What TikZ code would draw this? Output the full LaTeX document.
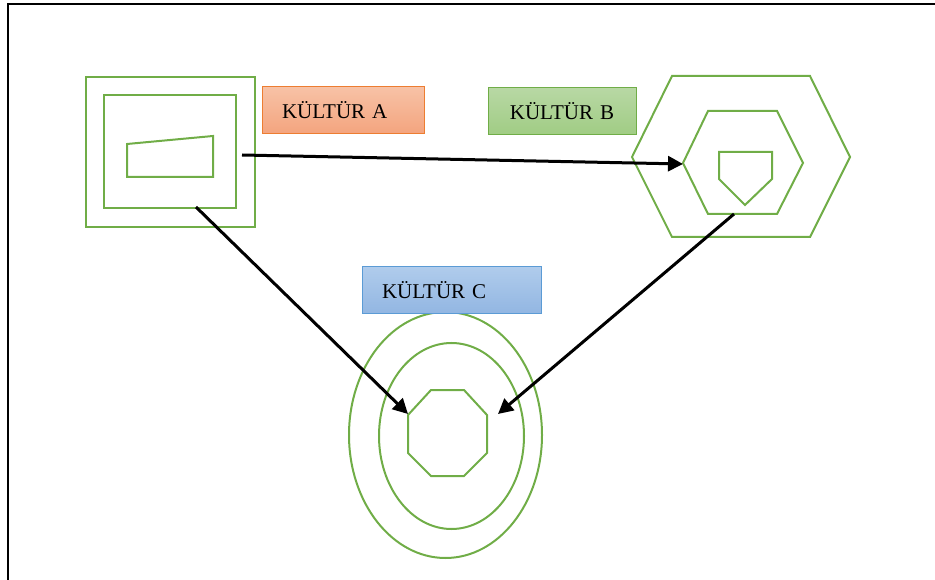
\documentclass[tikz,border=0pt]{standalone}
\usepackage{fontspec}
\setmainfont{Liberation Serif}
\usetikzlibrary{arrows.meta,shapes.geometric}

\definecolor{shapegreen}{HTML}{70AD47}
\definecolor{orangeline}{HTML}{ED7D31}
\definecolor{orangetop}{HTML}{F7C2A6}
\definecolor{orangebottom}{HTML}{F4A47E}
\definecolor{greentop}{HTML}{B8D8A4}
\definecolor{greenbottom}{HTML}{A0CC84}
\definecolor{blueline}{HTML}{5B9BD5}
\definecolor{bluetop}{HTML}{B0CCEC}
\definecolor{bluebottom}{HTML}{92B6E2}

\tikzset{
  outline/.style={draw=shapegreen, line width=2pt, line join=miter},
  kulturbox/.style={draw, line width=1pt, minimum height=47pt, inner xsep=20pt, inner ysep=0pt},
  connector/.style={line width=3pt, -{Triangle[length=15pt,width=15pt]}}
}

\begin{document}
\begin{tikzpicture}[x=1pt,y=-1pt,font=\fontsize{21}{24}\selectfont]
\useasboundingbox (0,0) rectangle (935,580);

% Frame
\draw[line width=2.5pt] (8,580) -- (8,4) -- (935,4);

% Culture A: squares and trapezoid
\draw[outline] (86,77) rectangle (255,227);
\draw[outline] (104,95) rectangle (236,208);
\draw[outline] (127,144) -- (213,136) -- (213,177) -- (127,177) -- cycle;

% Culture B: hexagons and pentagon
\draw[outline] (632,157) -- (672,76) -- (810,76) -- (850,157) -- (810,237) -- (672,237) -- cycle;
\draw[outline] (683,163) -- (708,111) -- (777,111) -- (803,163) -- (777,214) -- (708,214) -- cycle;
\draw[outline] (719,152) -- (772,152) -- (772,179) -- (745,205) -- (719,179) -- cycle;

% Culture C: ellipses and octagon
\draw[outline] (445.5,435) ellipse [x radius=96.5pt, y radius=123pt];
\draw[outline] (451.5,436) ellipse [x radius=72.5pt, y radius=93pt];
\draw[outline] (431,390) -- (464,390) -- (487,415) -- (487,453) -- (464,476)
    -- (431,476) -- (408,453) -- (408,415) -- cycle;

% Labels
\node[kulturbox,
    draw=orangeline,
    top color=orangetop,
    bottom color=orangebottom,
    text width=122pt,
    align=left] (kulturA) at (343,110.5) {KÜLTÜR A};

\node[kulturbox,
    draw=shapegreen,
    top color=greentop,
    bottom color=greenbottom,
    text width=108pt,
    align=center] (kulturB) at (562,111.5) {KÜLTÜR B};

\node[kulturbox,
    draw=blueline,
    top color=bluetop,
    bottom color=bluebottom,
    text width=139pt,
    align=left] (kulturC) at (451.5,290) {KÜLTÜR C};

% Arrow ends
\coordinate (fromAB) at (242,155);
\coordinate (toAB) at (683,164);
\coordinate (fromAC) at (196,207);
\coordinate (toAC) at (408,414);
\coordinate (fromBC) at (734,214);
\coordinate (toBC) at (498,414);

% Arrows
\draw[connector] (fromAB) -- (toAB);
\draw[connector] (fromAC) -- (toAC);
\draw[connector] (fromBC) -- (toBC);

\end{tikzpicture}
\end{document}
